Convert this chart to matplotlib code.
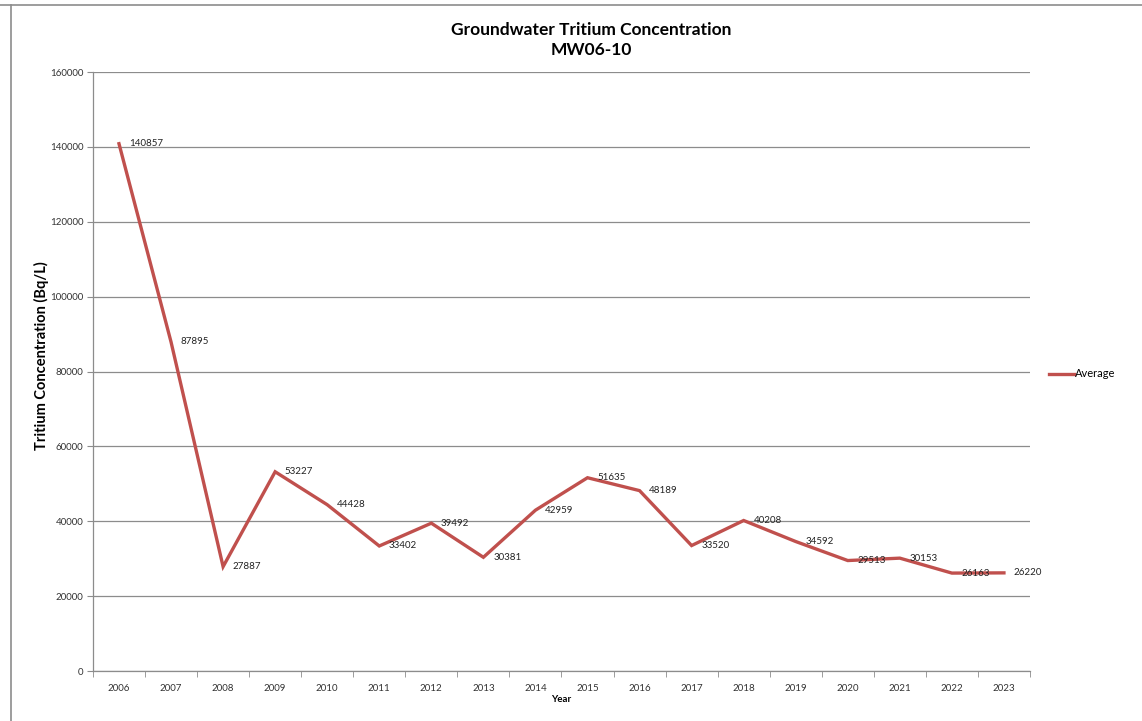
import matplotlib
matplotlib.use("Agg")
import matplotlib.pyplot as plt
from matplotlib.lines import Line2D

plt.rcParams['font.family'] = ['Lato', 'DejaVu Sans']

# данные
years = [2006, 2007, 2008, 2009, 2010, 2011, 2012, 2013, 2014,
         2015, 2016, 2017, 2018, 2019, 2020, 2021, 2022, 2023]
average = [140857, 87895, 27887, 53227, 44428, 33402, 39492, 30381, 42959,
           51635, 48189, 33520, 40208, 34592, 29513, 30153, 26163, 26220]
y_ticks = [0, 20000, 40000, 60000, 80000, 100000, 120000, 140000, 160000]

line_color = '#C0504D'
grid_color = '#8C8C8C'

fig = plt.figure(figsize=(11.42, 7.21), dpi=100)
ax = fig.add_axes([0.0814, 0.0693, 0.8205, 0.8308])

x = list(range(len(years)))
ax.plot(x, average, color=line_color, linewidth=2.4, label='Average',
        solid_joinstyle='miter')

# подписи значений справа от точек
for xi, v in zip(x, average):
    ax.annotate(str(v), (xi, v), xytext=(7, 0), textcoords='offset points',
                ha='left', va='center', fontsize=7, color='#222222')

ax.set_xlim(-0.5, len(years) - 0.5)
ax.set_ylim(0, 160000)
ax.set_yticks(y_ticks)
ax.set_yticklabels([str(t) for t in y_ticks], fontsize=7, color='#333333')
ax.set_xticks(x)
ax.set_xticklabels([str(y) for y in years], fontsize=7, color='#333333')
ax.set_xticks([i - 0.5 for i in range(len(years) + 1)], minor=True)
ax.tick_params(axis='x', which='major', length=0, pad=9)
ax.tick_params(axis='x', which='minor', length=4, color=grid_color, direction='out')
ax.tick_params(axis='y', length=4, color=grid_color, direction='out', pad=3)

ax.grid(axis='y', color=grid_color, linewidth=0.9)
ax.set_axisbelow(True)
for side in ['top', 'right']:
    ax.spines[side].set_visible(False)
for side in ['left', 'bottom']:
    ax.spines[side].set_color(grid_color)
    ax.spines[side].set_linewidth(0.9)

ax.set_xlabel('Year', fontsize=7, fontweight='bold', labelpad=2)
ax.set_ylabel('Tritium Concentration (Bq/L)', fontsize=10.5, fontweight='bold')
ax.yaxis.set_label_coords(-0.047, 0.526)

fig.text(0.5175, 0.945, 'Groundwater Tritium Concentration\nMW06-10', ha='center', va='center',
         fontsize=12.5, fontweight='bold', linespacing=1.3)

leg = ax.legend(loc='center left', bbox_to_anchor=(1.01, 0.496), frameon=False,
                fontsize=8, handlelength=2.2, handletextpad=0.1)

# рамка области диаграммы
fig.add_artist(Line2D([0, 1], [0.993, 0.993], color='#8C8C8C', linewidth=1.2))
fig.add_artist(Line2D([0.0096, 0.0096], [0, 0.993], color='#8C8C8C', linewidth=1.2))

fig.savefig('out.png', dpi=100)
